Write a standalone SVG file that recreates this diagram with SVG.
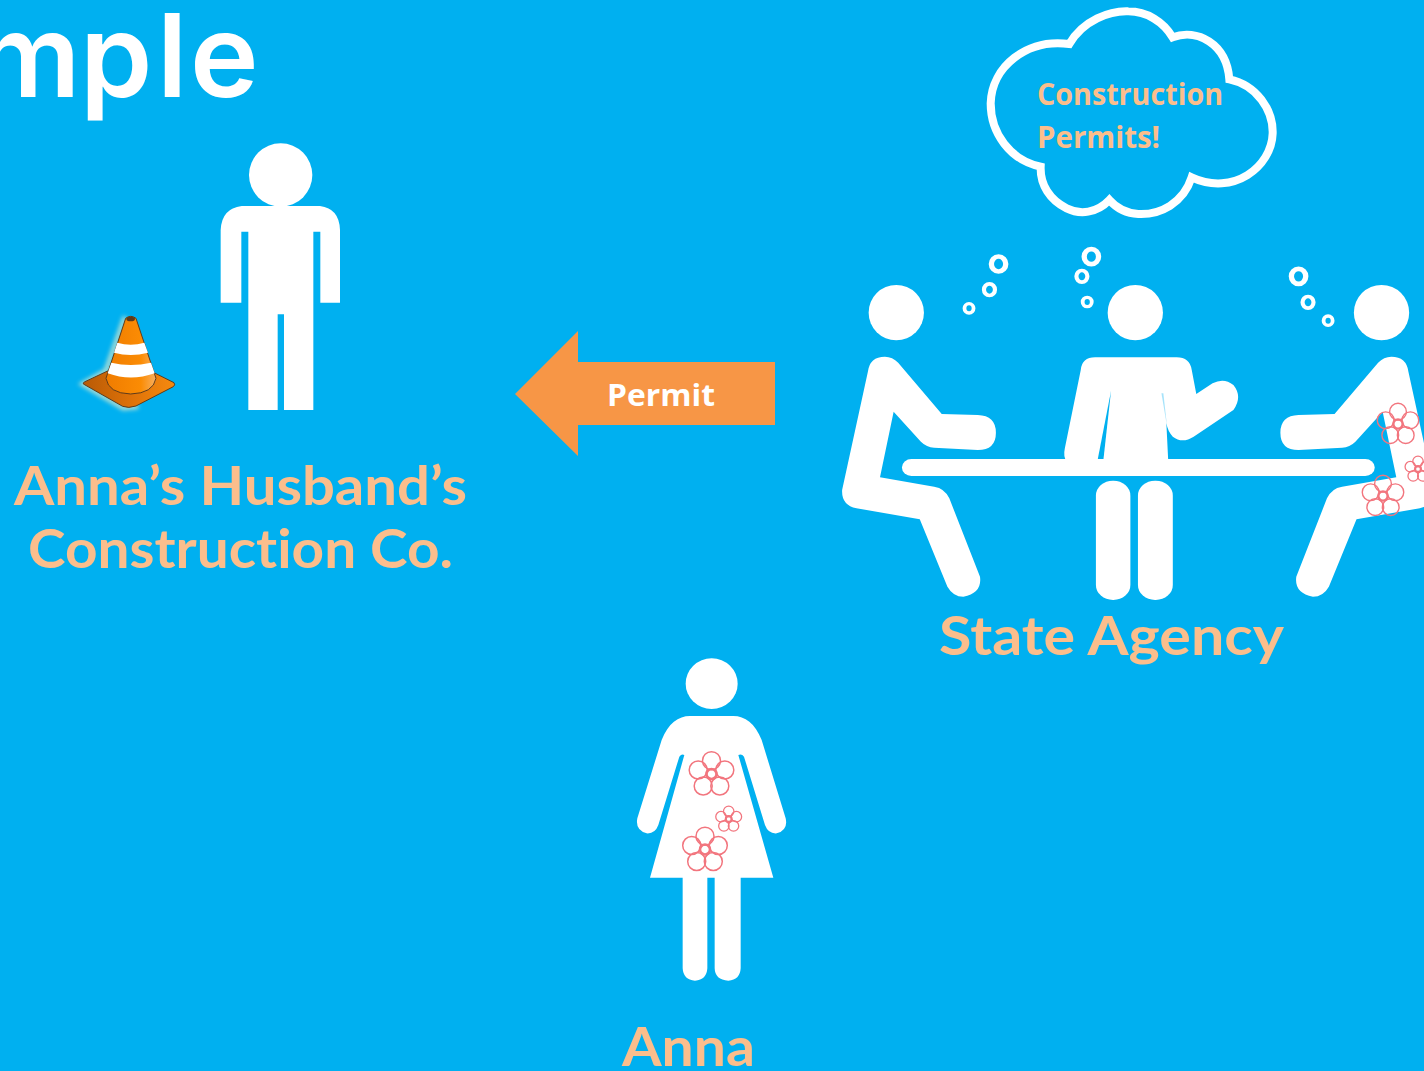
<svg xmlns="http://www.w3.org/2000/svg" width="1424" height="1071" viewBox="0 0 1424 1071">
<style>
.w{fill:#fff}
.lbl{font-family:"Lato","Liberation Sans",sans-serif;font-weight:700;fill:#fbbe8c;font-size:53px;font-variant-ligatures:none}
.cal{font-family:"Open Sans","Noto Sans","Liberation Sans",sans-serif;font-weight:700;font-size:31px;font-variant-ligatures:none}
.ring{fill:none;stroke:#fff}
.fl circle{fill:none;stroke:#f2757e;stroke-width:1.5}
.fl .c{stroke-width:2.6}
.fs circle{fill:none;stroke:#f2757e;stroke-width:2.2}
.fs .c{stroke-width:3.6}
</style>
<defs>
<filter id="soft" x="-5%" y="-5%" width="110%" height="110%"><feGaussianBlur stdDeviation="2"/></filter>
<filter id="soft2" x="-5%" y="-5%" width="110%" height="110%"><feGaussianBlur stdDeviation="1.1"/></filter>
<filter id="glow" x="-40%" y="-40%" width="180%" height="180%"><feGaussianBlur stdDeviation="6"/></filter>
<linearGradient id="base" x1="0" y1="0" x2="1" y2="0"><stop offset="0" stop-color="#b85a06"/><stop offset=".55" stop-color="#e07308"/><stop offset="1" stop-color="#f58a10"/></linearGradient>
<linearGradient id="cone" x1="0" y1="0" x2="1" y2="0"><stop offset="0" stop-color="#f07c00"/><stop offset=".7" stop-color="#fb8c04"/><stop offset="1" stop-color="#f9b060"/></linearGradient>
<g id="flower" class="fl">
<circle cx="0" cy="-13.3" r="9"/><circle cx="-13.3" cy="-4" r="9"/><circle cx="-8.3" cy="12" r="9"/><circle cx="8.3" cy="12" r="9"/><circle cx="13.3" cy="-4" r="9"/><circle class="c" r="5"/>
</g>
<g id="flower-s" class="fs">
<circle cx="0" cy="-13.3" r="9"/><circle cx="-13.3" cy="-4" r="9"/><circle cx="-8.3" cy="12" r="9"/><circle cx="8.3" cy="12" r="9"/><circle cx="13.3" cy="-4" r="9"/><circle class="c" r="5"/>
</g>
<path id="sitter" d="M100,395 L32,750 Q30,795 70,805 L237,838 L310,1040 Q325,1070 352,1070 Q402,1060 396,1010 L315,775 Q303,745 275,740 L132,712 L168,515 L240,605 Q255,622 275,623 L390,630 Q438,630 438,578 Q438,527 390,525 L295,522 L180,368 Q165,350 145,350 Q105,350 100,395 Z"/>
</defs>
<rect width="1424" height="1071" fill="#00b0f0"/>
<text id="title" x="-24 80 157 190" y="97" font-family="Inter,Lato,'Liberation Sans',sans-serif" font-weight="600" font-size="116" fill="#fff">mple</text>

<g id="node-husband">
<g transform="translate(60 130) scale(.33333)" filter="url(#soft2)" class="w">
<circle cx="662" cy="135" r="95"/>
<path d="M545,228 L780,228 Q838,235 840,300 L840,518 L781,518 L781,305 L760,305 L760,840 L672,840 L672,553 L653,553 L653,840 L565,840 L565,305 L544,305 L544,518 L482,518 L482,300 Q485,235 545,228 Z"/>
</g>
<g id="cone-icon" transform="translate(60 130) scale(.33333)">
<g filter="url(#glow)" fill="none" stroke="#fff4c8" stroke-width="14" opacity=".7">
<path d="M195,560 L138,722 L68,762 L190,834 L235,830"/>
</g>
<path d="M70,762 Q68,758 75,755 L145,722 L282,728 L342,758 Q347,765 340,770 L228,828 Q205,836 188,829 Z" fill="url(#base)" stroke="#5c3a1c" stroke-width="3"/>
<path d="M197,565 Q212,553 228,565 L288,745 Q280,790 212,792 Q145,790 138,745 Z" fill="url(#cone)" stroke="#5c3a1c" stroke-width="3"/>
<path d="M172,638 Q212,650 253,638 L264,668 Q212,682 162,668 Z" fill="#fff"/>
<path d="M154,698 Q212,712 273,698 L284,730 Q212,755 143,730 Z" fill="#fff"/>
<ellipse cx="212" cy="567" rx="13" ry="7" fill="#5c3a1c"/>
</g>
<text class="lbl" x="14" y="505" textLength="453" lengthAdjust="spacingAndGlyphs">Anna’s Husband’s</text>
<text class="lbl" x="28" y="568" textLength="425" lengthAdjust="spacingAndGlyphs">Construction Co.</text>
</g>

<g id="node-agency">
<g transform="translate(830 240) scale(.37879 .33333)" filter="url(#soft)" class="w">
<ellipse cx="175" cy="218" rx="73" ry="83"/><ellipse cx="806" cy="218" rx="73" ry="83"/><ellipse cx="1456" cy="218" rx="73" ry="83"/>
<use href="#sitter"/>
<use href="#sitter" transform="translate(1627 0) scale(-1 1)"/>
<path d="M700,352 L915,352 Q950,352 955,390 L967,462 L1010,430 Q1040,412 1065,435 Q1090,470 1065,510 L960,590 Q930,612 905,590 Q892,575 888,550 L893,665 L625,665 Q615,650 620,625 L662,390 Q665,352 700,352 Z"/>
<rect x="190" y="657" width="1248" height="51" rx="25" ry="25"/>
<rect x="702" y="722" width="91" height="358" rx="45" ry="45"/>
<rect x="813" y="722" width="92" height="358" rx="45" ry="45"/>
<path d="M742,452 L722,657 L707,657 Z" fill="#00b0f0"/>
<path d="M875,460 L880,460 L890,560 Z" fill="#00b0f0" opacity=".35"/>
<g class="ring">
<ellipse cx="445" cy="72" rx="19" ry="22.500" stroke-width="14"/><ellipse cx="421" cy="149" rx="14.500" ry="17.500" stroke-width="11"/><ellipse cx="367" cy="205" rx="12" ry="14" stroke-width="10"/>
<ellipse cx="690" cy="50" rx="19" ry="22.500" stroke-width="14"/><ellipse cx="665" cy="109" rx="14.500" ry="17.500" stroke-width="11"/><ellipse cx="679" cy="186" rx="12" ry="14" stroke-width="10"/>
<ellipse cx="1237" cy="109" rx="19" ry="22.500" stroke-width="14"/><ellipse cx="1262" cy="187" rx="14.500" ry="17.500" stroke-width="11"/><ellipse cx="1315" cy="242" rx="12" ry="14" stroke-width="10"/>
</g>
</g>
<use href="#flower" transform="translate(1398 424) scale(.93)"/>
<use href="#flower-s" transform="translate(1418 469) scale(.58)"/>
<use href="#flower" transform="translate(1383 496) scale(.93)"/>
<text class="lbl" x="939" y="655" textLength="345" lengthAdjust="spacingAndGlyphs">State Agency</text>
</g>

<g id="node-cloud">
<path transform="translate(970 0) scale(.33333)" filter="url(#soft)" fill="none" stroke="#fff" stroke-width="24" d="M298,132 C340,60 420,32 475,34 C530,34 580,65 608,112 C680,85 770,130 778,238 C860,255 910,330 908,400 C905,500 790,590 665,532 C640,610 570,645 505,642 C470,640 440,625 418,600 C380,640 330,645 290,625 C240,600 210,555 212,500 C120,480 62,400 62,310 C65,200 170,115 298,132 Z"/>
<text class="cal" fill="#fbbe8c" x="1037" y="105" textLength="186" lengthAdjust="spacingAndGlyphs">Construction</text>
<text class="cal" fill="#fbbe8c" x="1037" y="148" textLength="123" lengthAdjust="spacingAndGlyphs">Permits!</text>
</g>

<g id="node-anna">
<g transform="translate(620 650) scale(.33333)" filter="url(#soft)" class="w">
<ellipse cx="275" cy="101" rx="78" ry="76"/>
<path d="M210,198 L340,198 C375,198 405,220 425,270 L497,505 Q505,540 470,550 Q445,552 435,525 L372,320 Q365,310 355,315 L460,683 L362,683 L362,955 Q360,990 325,992 Q285,990 284,955 L284,683 L262,683 L262,955 Q260,990 225,992 Q190,990 188,955 L188,683 L90,683 L193,315 Q185,310 178,320 L115,525 Q105,552 80,550 Q45,540 52,505 L125,270 C145,220 175,198 210,198 Z"/>
</g>
<use href="#flower" transform="translate(711.500 774)"/>
<use href="#flower-s" transform="translate(728.700 819) scale(.58)"/>
<use href="#flower" transform="translate(705 849.500)"/>
<text class="lbl" x="622" y="1066" textLength="133" lengthAdjust="spacingAndGlyphs">Anna</text>
</g>

<g id="connectors">
<polygon points="515,394 578,331 578,362 775,362 775,425 578,425 578,456" fill="#f79646"/>
<text class="cal" fill="#fff" x="607" y="406" textLength="108" lengthAdjust="spacingAndGlyphs">Permit</text>
</g>
</svg>
